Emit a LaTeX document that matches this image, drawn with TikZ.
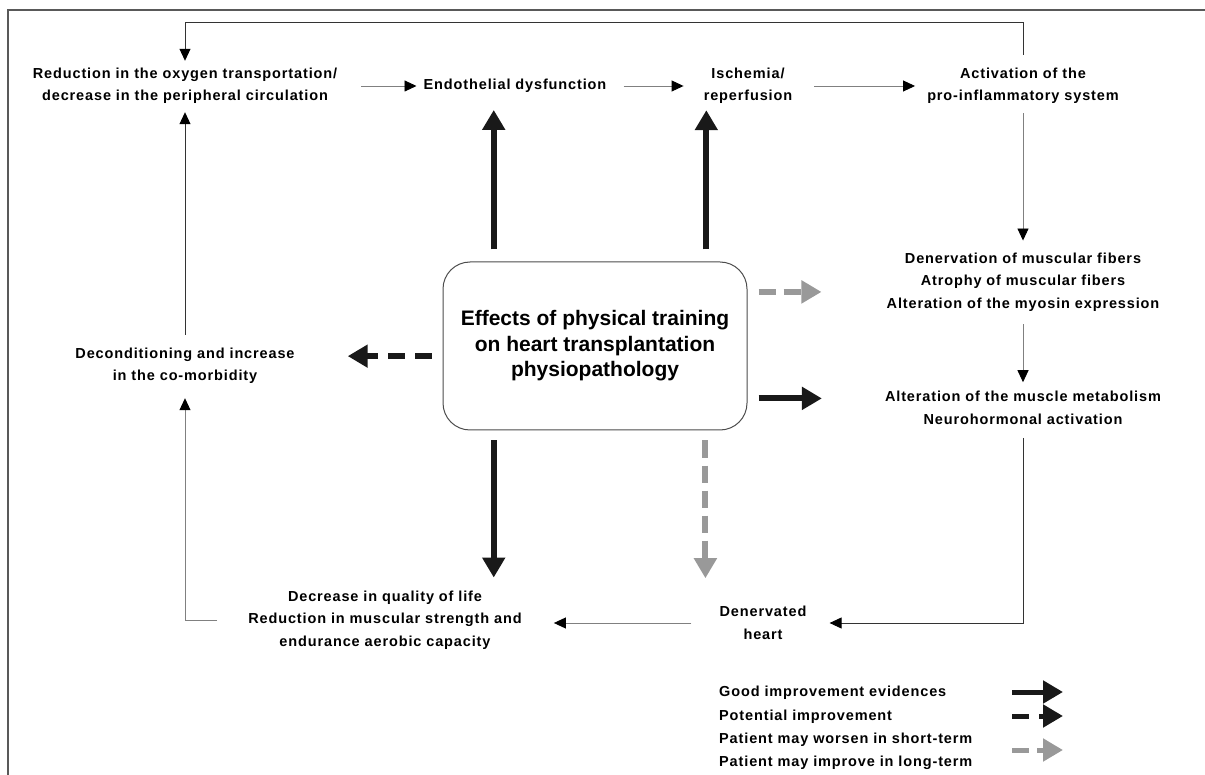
\documentclass[tikz,border=0pt]{standalone}
\usepackage{fontspec}
\setmainfont{Liberation Sans}
\newfontfamily\lblfont{Liberation Sans}[LetterSpace=6]
\usetikzlibrary{arrows.meta,calc}

\begin{document}
\begin{tikzpicture}[x=1pt,y=-1pt,
  txt/.style={font=\lblfont\bfseries\fontsize{14.5}{22.5}\selectfont, align=center, inner sep=2pt},
  leg/.style={font=\lblfont\bfseries\fontsize{14.5}{22.5}\selectfont, anchor=west, inner sep=0pt},
  conn/.style={draw=black!50, line width=0.9pt, -{Triangle[length=12pt,width=11pt,black]}},
  connk/.style={conn, draw=black!80},
  good/.style={draw=black!90, line width=6pt, -{Triangle[length=20pt,width=22pt]}},
  potential/.style={good, dash pattern=on 17pt off 10pt},
  worse/.style={good, draw=black!40, dash pattern=on 17pt off 8pt}]
\useasboundingbox (0,0) rectangle (1205,775);
\draw[black!65, line width=1.5pt] (8,775) -- (8,10) -- (1205,10);

\node[txt] (red) at (185,86) {Reduction in the oxygen transportation/\\decrease in the peripheral circulation};
\node[txt] (endo) at (515,86) {Endothelial dysfunction};
\node[txt] (isch) at (748,86) {Ischemia/\\reperfusion};
\node[txt] (activ) at (1023,86) {Activation of the\\pro-inflammatory system};
\node[txt] (dener) at (1023,282) {Denervation of muscular fibers\\Atrophy of muscular fibers\\Alteration of the myosin expression};
\node[txt] (alter) at (1023,408) {Alteration of the muscle metabolism\\Neurohormonal activation};
\node[txt] (heart) at (763,623) {Denervated\\heart};
\node[txt] (qual) at (385,620) {Decrease in quality of life\\Reduction in muscular strength and\\endurance aerobic capacity};
\node[txt] (decon) at (185,366) {Deconditioning and increase\\in the co-morbidity};
\node[draw=black!70, line width=1pt, rounded corners=27pt, minimum width=304pt, minimum height=168pt,
  align=center, font=\bfseries\fontsize{21}{25.5}\selectfont] (box) at (595,346)
  {Effects of physical training\\on heart transplantation\\physiopathology};

\coordinate (fb) at (185,22);
\draw[conn, shorten <=22pt, shorten >=5pt] (red) -- (endo);
\draw[conn, shorten <=15pt, shorten >=18pt] (endo) -- (isch);
\draw[conn, shorten <=20pt, shorten >=10pt] (isch) -- (activ);
\draw[connk, shorten <=11pt, shorten >=5pt] (activ.north) |- (fb) -- (red.north);
\draw[conn, shorten <=7pt, shorten >=10pt] (activ) -- (dener);
\draw[conn, shorten <=11pt, shorten >=7pt] (dener) -- (alter);
\draw[connk, shorten <=11pt, shorten >=21pt] (alter.south) |- (heart.east);
\draw[conn, shorten <=26pt, shorten >=30pt] (heart.west) -- (heart.west -| qual.east);
\draw[conn, shorten <=29pt, shorten >=12pt] (qual.west) -| (decon.south);
\draw[connk, shorten <=11pt, shorten >=6pt] (decon) -- (red);

\coordinate (b1) at ($(box.north west)!.168!(box.north east)$);
\coordinate (b2) at ($(box.north west)!.865!(box.north east)$);
\coordinate (b3) at ($(box.south west)!.168!(box.south east)$);
\coordinate (b4) at ($(box.south west)!.862!(box.south east)$);
\coordinate (b5) at ($(box.north west)!.56!(box.south west)$);
\coordinate (b6) at ($(box.north east)!.18!(box.south east)$);
\coordinate (b7) at ($(box.north east)!.81!(box.south east)$);
\draw[good, shorten <=12pt, shorten >=15pt] (b1) -- (b1 |- endo.south);
\draw[good, shorten <=12pt, shorten >=4pt] (b2) -- (b2 |- isch.south);
\draw[potential, shorten <=11pt, shorten >=51pt] (b5) -- (b5 -| decon.east);
\draw[worse, shorten <=11pt, shorten >=63pt] (b6) -- (b6 -| dener.west);
\draw[good, shorten <=11pt, shorten >=61pt] (b7) -- (b7 -| alter.west);
\draw[good, shorten <=10pt, shorten >=11pt] (b3) -- (b3 |- qual.north);
\draw[worse, shorten <=10pt, shorten >=26pt] (b4) -- (b4 |- heart.north);

\node[leg] (l1) at (719,693) {Good improvement evidences};
\node[leg] (l2) at (719,717) {Potential improvement};
\node[leg] (l3) at (719,740) {Patient may worsen in short-term};
\node[leg] (l4) at (719,763) {Patient may improve in long-term};
\coordinate (g1) at (1012,692); \coordinate (h1) at (1063,692);
\coordinate (g2) at (1012,716); \coordinate (h2) at (1063,716);
\coordinate (g3) at (1012,750); \coordinate (h3) at (1063,750);
\draw[good, line width=5pt] (g1) -- (h1);
\draw[potential, line width=5pt] (g2) -- (h2);
\draw[worse, line width=5pt] (g3) -- (h3);
\end{tikzpicture}
\end{document}
